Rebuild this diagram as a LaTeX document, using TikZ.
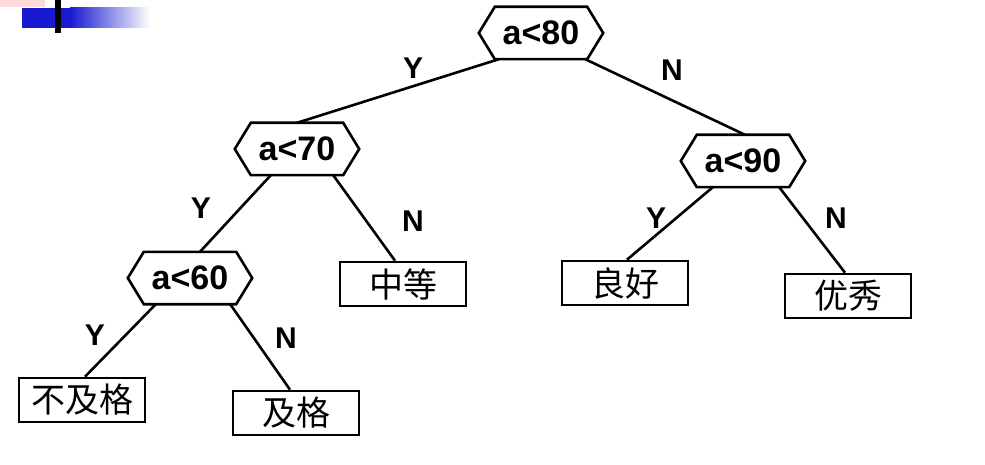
\documentclass[tikz,border=0pt]{standalone}
\usepackage{fontspec}
\setmainfont{Liberation Sans}
\newfontfamily\cjk{Noto Sans CJK SC}
\usetikzlibrary{calc}
\begin{document}
\begin{tikzpicture}[x=1pt,y=-1pt,
  hexn/.style={minimum width=124pt,minimum height=52pt,inner sep=0pt,font=\fontsize{34}{34}\selectfont\bfseries},
  leaf/.style={draw,line width=2.6pt,minimum width=126pt,minimum height=44pt,inner sep=0pt,font=\cjk\fontsize{34}{34}\selectfont},
  edge/.style={line width=2.6pt},
  lab/.style={font=\fontsize{30}{30}\selectfont\bfseries}]
\useasboundingbox (0,0) rectangle (985,465);
% decoration
\fill[pink!60] (0,0) rectangle (45,7);
\shade[left color=blue!80!black!90, right color=white] (70,8) rectangle (150,28);
\fill[blue!80!black!90] (22,8) rectangle (70.5,28);
\fill[black] (55,0) rectangle (61,33);
\newcommand{\hexdraw}[1]{\draw[line width=2.6pt] (#1.west) -- ($(#1.north west)+(16,0)$) -- ($(#1.north east)+(-16,0)$) -- (#1.east) -- ($(#1.south east)+(-16,0)$) -- ($(#1.south west)+(16,0)$) -- cycle;}
\node[hexn] (h80) at (541,33) {a<80};
\node[hexn] (h70) at (297,149) {a<70};
\node[hexn] (h90) at (743,161) {a<90};
\node[hexn] (h60) at (190,278) {a<60};
\hexdraw{h80}\hexdraw{h70}\hexdraw{h90}\hexdraw{h60}
\node[leaf] (zd) at (403,284) {中等};
\node[leaf] (lh) at (625,283) {良好};
\node[leaf] (yx) at (848,296) {优秀};
\node[leaf] (bjg) at (82,400) {不及格};
\node[leaf] (jg) at (296,413) {及格};
\draw[edge] ($(h80.south west)+(20,0)$) -- (h70.north);
\draw[edge] ($(h80.south east)+(-18,0)$) -- ($(h90.north)+(2,0)$);
\draw[edge] ($(h70.south west)+(36,0)$) -- ($(h60.north)+(10,0)$);
\draw[edge] ($(h70.south east)+(-26,0)$) -- ($(zd.north)+(-8,0)$);
\draw[edge] ($(h90.south west)+(32,0)$) -- ($(lh.north)+(2,0)$);
\draw[edge] ($(h90.south east)+(-26,0)$) -- ($(yx.north)+(-3,0)$);
\draw[edge] ($(h60.south west)+(28,0)$) -- ($(bjg.north)+(3,0)$);
\draw[edge] ($(h60.south east)+(-22,0)$) -- ($(jg.north)+(-6,0)$);
\node[lab] (y1) at (413,68) {Y};
\node[lab] (n1) at (672,70) {N};
\node[lab] (y2) at (201,208) {Y};
\node[lab] (n2) at (413,221) {N};
\node[lab] (y3) at (656,218) {Y};
\node[lab] (n3) at (836,218) {N};
\node[lab] (y4) at (95,335) {Y};
\node[lab] (n4) at (286,338) {N};
\end{tikzpicture}
\end{document}
